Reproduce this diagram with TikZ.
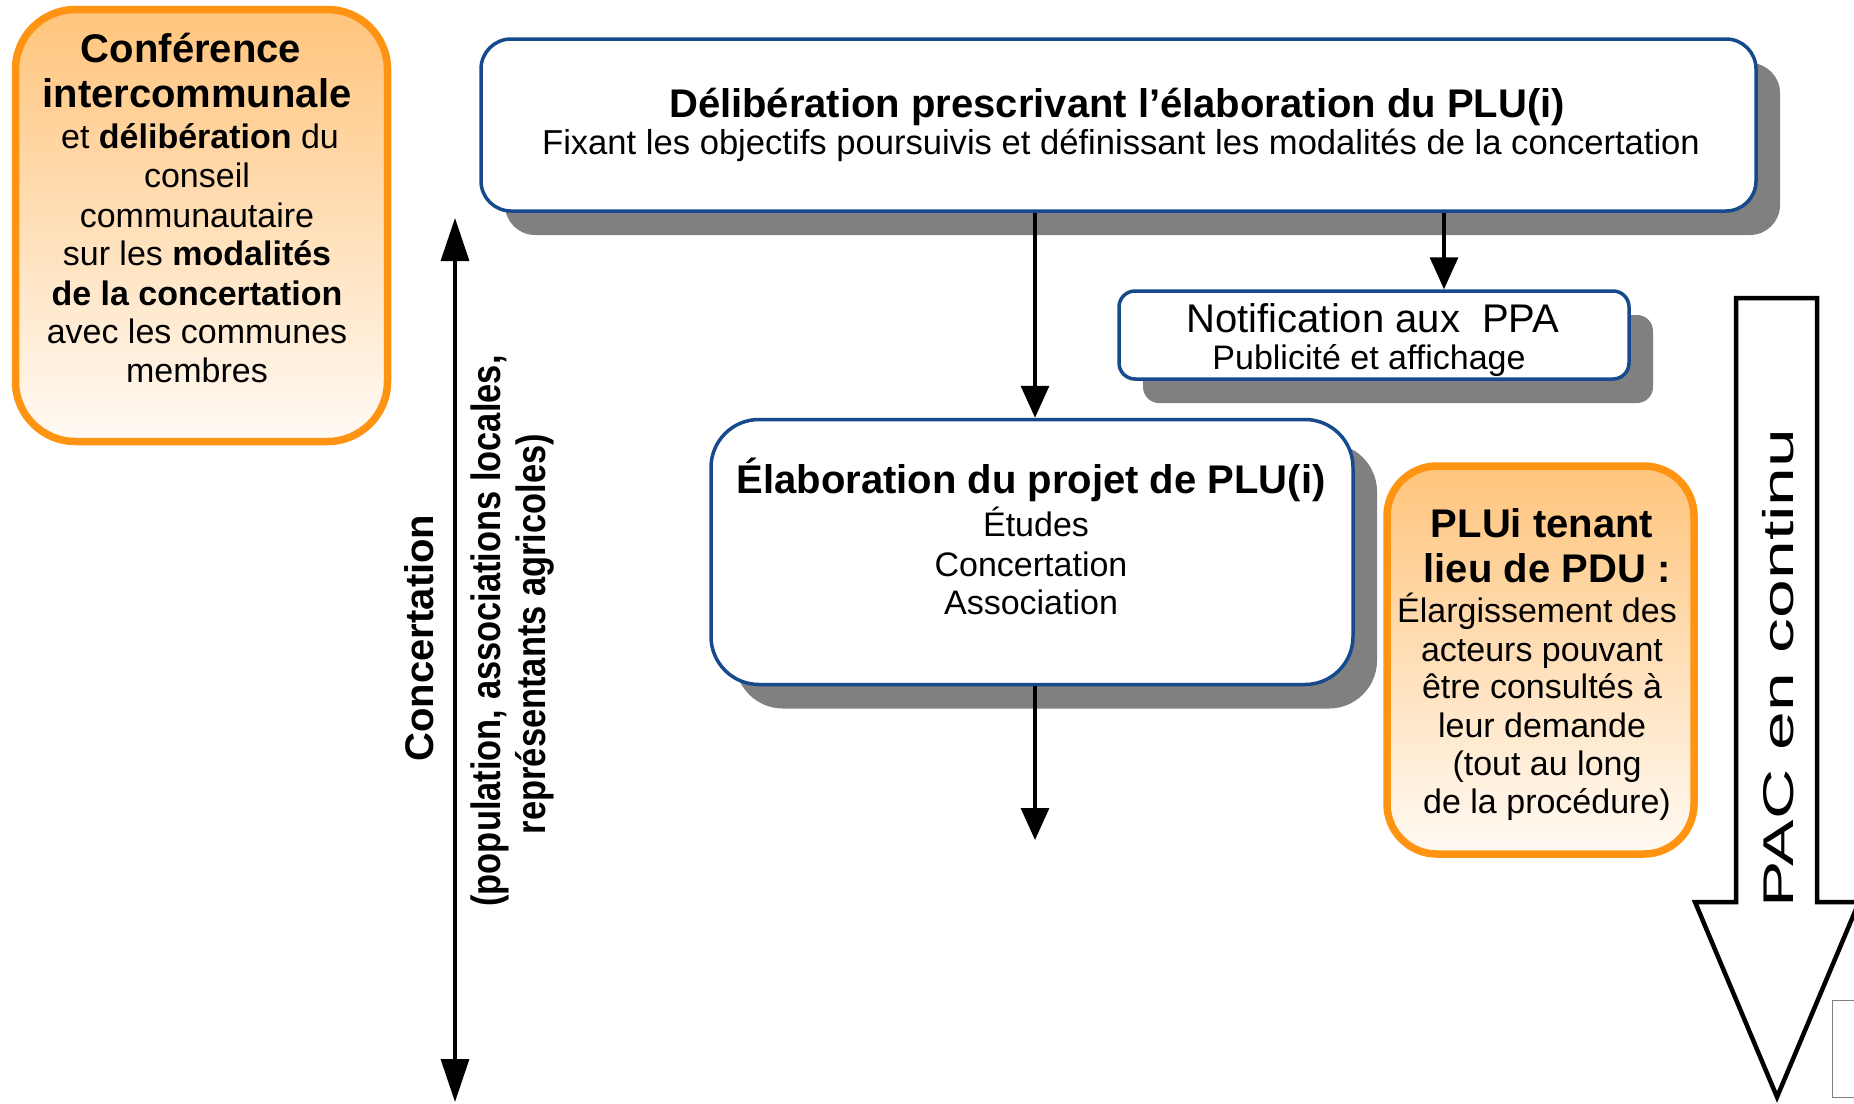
\documentclass[tikz,border=0pt]{standalone}
\usepackage{fontspec}
\setmainfont{Liberation Sans}
\usepackage{graphicx}
\usetikzlibrary{arrows.meta,shadows}

\definecolor{bblue}{RGB}{22,74,140}
\definecolor{orng}{RGB}{255,148,18}
\definecolor{shgray}{RGB}{128,128,128}
\definecolor{otop}{RGB}{255,196,124}
\definecolor{obot}{RGB}{255,250,244}

\newcommand\fBig{\fontsize{40}{46}\selectfont\bfseries}
\newcommand\fReg{\fontsize{34}{39}\selectfont}
\newcommand\fRegL{\fontsize{40}{46}\selectfont}

\begin{document}
\begin{tikzpicture}[x=1pt,y=-1pt,
  bluebox/.style={draw=bblue, line width=3.5pt, fill=white, rounded corners=#1, inner sep=0pt,
     drop shadow={shadow xshift=24pt, shadow yshift=-24pt, fill=shgray, opacity=1}},
  orangebox/.style={draw=orng, line width=7.5pt, top color=otop, bottom color=obot, rounded corners=#1, inner sep=0pt},
  txt/.style={inner sep=0pt, anchor=base},
  arr/.style={line width=3.3pt, -{Triangle[length=32pt,width=28pt]}},
  dblarr/.style={line width=3.3pt, {Triangle[length=43pt,width=28pt]}-{Triangle[length=43pt,width=28pt]}},
  bigarrow/.style={draw=black, line width=4.5pt, line join=miter, fill=white},
]
\useasboundingbox (0,0) rectangle (1854,1103);
\fill[white] (0,0) rectangle (1854,1103);

% boxes
\node[orangebox=60pt, minimum width=372pt, minimum height=432pt] (conf) at (201.5,225.5) {};
\node[bluebox=30pt, minimum width=1275pt, minimum height=172pt] (top) at (1118.5,125) {};
\node[bluebox=16pt, minimum width=510pt, minimum height=88pt] (notif) at (1374,335) {};
\node[bluebox=48pt, minimum width=642pt, minimum height=265pt] (elab) at (1032,552) {};
\node[orangebox=50pt, minimum width=307pt, minimum height=388pt] (plui) at (1540.5,660) {};

% big PAC arrow
\draw[bigarrow] (1736,298) -- (1817,298) -- (1817,902) -- (1859,902) -- (1777,1097) -- (1695,902) -- (1736,902) -- cycle;
\draw[gray, line width=1pt] (1832,1000) rectangle (1872,1097);

% left box text
\node[txt] (c1) at (191,62) {\fBig Conférence};
\node[txt] (c2) at (197,107) {\fBig intercommunale};
\node[txt] (c3) at (200,148) {\fReg et \textbf{délibération} du};
\node[txt] (c4) at (197,187) {\fReg conseil};
\node[txt] (c5) at (197,227) {\fReg communautaire};
\node[txt] (c6) at (197,265) {\fReg sur les \textbf{modalités}};
\node[txt] (c7) at (197,305) {\fReg \textbf{de la concertation}};
\node[txt] (c8) at (197,343) {\fReg avec les communes};
\node[txt] (c9) at (197,382) {\fReg membres};

% top box text
\node[txt] (t1) at (1117,117) {\fBig Délibération prescrivant l’élaboration du PLU(i)};
\node[txt] (t2) at (1121,154) {\fontsize{34.6}{39}\selectfont Fixant les objectifs poursuivis et définissant les modalités de la concertation};

% notification text
\node[txt] (n1) at (1373,332) {\fRegL Notification aux\ \ PPA};
\node[txt] (n2) at (1369,369) {\fReg Publicité et affichage};

% elaboration text
\node[txt] (e1) at (1031,493) {\fBig Élaboration du projet de PLU(i)};
\node[txt] (e2) at (1036,536) {\fReg Études};
\node[txt] (e3) at (1031,576) {\fReg Concertation};
\node[txt] (e4) at (1031,614) {\fReg Association};

% PLUi text
\node[txt] (p1) at (1542,537) {\fBig PLUi tenant};
\node[txt] (p2) at (1547,582) {\fBig lieu de PDU :};
\node[txt] (p3) at (1537,622) {\fReg Élargissement des};
\node[txt] (p4) at (1542,661) {\fReg acteurs pouvant};
\node[txt] (p5) at (1542,698) {\fReg être consultés à};
\node[txt] (p6) at (1542,737) {\fReg leur demande};
\node[txt] (p7) at (1547,775) {\fReg (tout au long};
\node[txt] (p8) at (1547,813) {\fReg de la procédure)};

% rotated texts
\node[txt, rotate=90] (conc) at (433,638) {\fBig Concertation};
\node[txt, rotate=90] (pop1) at (500,631) {\fontsize{41}{46}\selectfont\bfseries\scalebox{0.84}[1]{(population, associations locales,}};
\node[txt, rotate=90] (pop2) at (545,634) {\fontsize{41}{46}\selectfont\bfseries\scalebox{0.84}[1]{représentants agricoles)}};
\node[txt, rotate=90] (pac) at (1793,668) {\fontsize{43}{50}\selectfont\scalebox{1.62}[1]{PAC en continu}};

% connectors
\coordinate (a1) at (1035,0);
\coordinate (a2) at (1444,0);
\coordinate (elabend) at (1035,840);
\coordinate (ctop) at (455,218);
\coordinate (cbot) at (455,1102);
\draw[arr] (top.south -| a1) -- (elab.north -| a1);
\draw[arr] (top.south -| a2) -- (notif.north -| a2);
\draw[arr] (elab.south -| a1) -- (elabend);
\draw[dblarr] (ctop) -- (cbot);
\end{tikzpicture}
\end{document}
